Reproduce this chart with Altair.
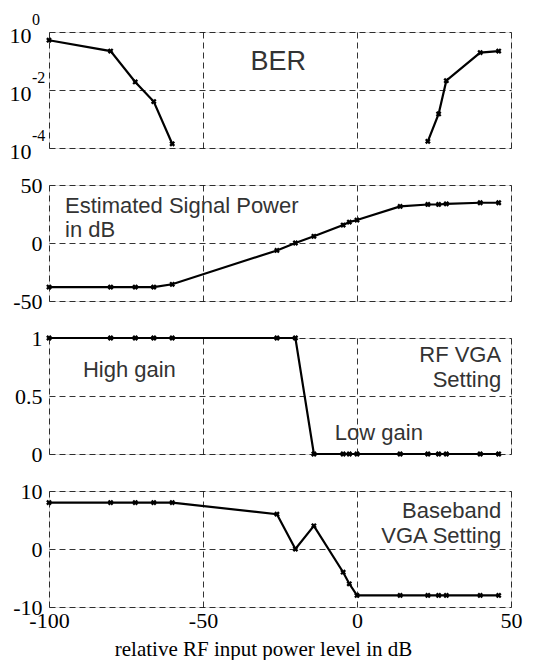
import altair as alt
import pandas as pd

x_vals = [-100, -80, -72, -66, -60, -26, -20, -14, -4.5, -2.5, 0, 14, 23, 26.5, 29, 40, 46]

ber_left_x = [-100, -80, -72, -66, -60]
ber_left_y = [0.52, 0.22, 0.019, 0.004, 1.4e-4]
ber_right_x = [23, 26.5, 29, 40, 46]
ber_right_y = [1.7e-4, 1.5e-3, 0.021, 0.195, 0.22]

power_db = [-38, -38, -38, -38, -35.6, -6.4, 0, 5.8, 15.5, 18, 19.8, 31.5, 33.2, 33.2, 33.8, 34.7, 34.7]
rf_vga = [1, 1, 1, 1, 1, 1, 1, 0, 0, 0, 0, 0, 0, 0, 0, 0, 0]
bb_vga = [8, 8, 8, 8, 8, 6, 0, 4, -4, -6, -8, -8, -8, -8, -8, -8, -8]

x_ticks = [-100, -50, 0, 50]
ber_ticks = [1, 1e-2, 1e-4]
ber_exp = ["0", "-2", "-4"]

W, H = 462, 116
SERIF = "Liberation Serif"
SANS = "Liberation Sans"
TXT = "#333333"
LBL = "toString(datum.value)"

xscale = alt.Scale(domain=[-100, 50], nice=False, zero=False)


def xenc(bottom=False):
    if bottom:
        ax = alt.Axis(values=x_ticks, title="relative RF input power level in dB",
                      labelFont=SERIF, labelFontSize=22, labelColor="black",
                      labelPadding=3, labelExpr=LBL, titleFont=SERIF, titleFontSize=21,
                      titleFontWeight="normal", titleColor="black", titlePadding=7,
                      titleX=214, titleAlign="center",
                      grid=True, gridDash=[6, 4], gridColor="black", gridWidth=0.8,
                      gridOpacity=1, domain=False, ticks=False, labelFlush=False)
    else:
        ax = alt.Axis(values=x_ticks, title=None, labels=False, grid=True,
                      gridDash=[6, 4], gridColor="black", gridWidth=0.8,
                      gridOpacity=1, domain=False, ticks=False)
    return alt.X("x:Q", scale=xscale, axis=ax)


def yaxis(values, labelExpr=LBL, pad=7, offset=0):
    kw = dict(values=values, title=None, labelFont=SERIF, labelFontSize=22,
              labelColor="black", labelPadding=pad, grid=True, gridDash=[6, 4],
              gridColor="black", gridWidth=0.8, gridOpacity=1, domain=False,
              ticks=False, labelFlush=False, labelBaseline="middle",
              labelExpr=labelExpr)
    if offset:
        kw["labelOffset"] = offset
    return alt.Axis(**kw)


def series(df, yfield, yscale, yax, bottom=False, detail=None):
    enc = dict(x=xenc(bottom), y=alt.Y(f"{yfield}:Q", scale=yscale, axis=yax))
    if detail:
        enc["detail"] = alt.Detail(f"{detail}:N")
    line = alt.Chart(df).mark_line(color="black", strokeWidth=2.2).encode(**enc)
    pts = alt.Chart(df).mark_point(shape="cross", angle=45, filled=True, size=34,
                                   color="black", opacity=1).encode(**enc)
    return [line, pts]


def notes(rows, yfield_scale, align, size=22):
    df = pd.DataFrame(rows, columns=["x", "y", "t"])
    return alt.Chart(df).mark_text(align=align, baseline="alphabetic", font=SANS,
                                   fontSize=size, color=TXT).encode(
        x=alt.X("x:Q", scale=xscale),
        y=alt.Y("y:Q", scale=yfield_scale),
        text="t:N")


# Panel 1: BER
ber_df = pd.DataFrame({
    "x": ber_left_x + ber_right_x,
    "y": ber_left_y + ber_right_y,
    "seg": ["a"] * len(ber_left_x) + ["b"] * len(ber_right_x),
})
ys1 = alt.Scale(type="log", domain=[1e-4, 1], nice=False)
p1_layers = series(ber_df, "y", ys1, yaxis(ber_ticks, "'10'", pad=18, offset=3), detail="seg")
exp_df = pd.DataFrame({"y": ber_ticks, "t": ber_exp})
exps = alt.Chart(exp_df).mark_text(align="left", baseline="alphabetic", font=SERIF,
                                   fontSize=16, color="black", dx=-17, dy=-7).encode(
    x=alt.datum(-100, scale=xscale), y=alt.Y("y:Q", scale=ys1), text="t:N")
p1 = alt.layer(*p1_layers, exps,
               notes([(-25.6, 0.049, "BER")], ys1, "center", size=27)
               ).properties(width=W, height=H)

# Panel 2: Estimated signal power
df2 = pd.DataFrame({"x": x_vals, "y": power_db})
ys2 = alt.Scale(domain=[-50, 50], nice=False)
p2 = alt.layer(*series(df2, "y", ys2, yaxis([-50, 0, 50])),
               notes([(-94.8, 25.8, "Estimated Signal Power"), (-94.8, 5.4, "in dB")], ys2, "left")
               ).properties(width=W, height=H)

# Panel 3: RF VGA
df3 = pd.DataFrame({"x": x_vals, "y": rf_vga})
ys3 = alt.Scale(domain=[0, 1], nice=False)
p3 = alt.layer(*series(df3, "y", ys3, yaxis([0, 0.5, 1])),
               notes([(-89, 0.665, "High gain"), (-7.2, 0.12, "Low gain")], ys3, "left"),
               notes([(46.8, 0.794, "RF VGA"), (46.8, 0.579, "Setting")], ys3, "right")
               ).properties(width=W, height=H)

# Panel 4: Baseband VGA
df4 = pd.DataFrame({"x": x_vals, "y": bb_vga})
ys4 = alt.Scale(domain=[-10, 10], nice=False)
p4 = alt.layer(*series(df4, "y", ys4, yaxis([-10, 0, 10]), bottom=True),
               notes([(46.8, 5.3, "Baseband"), (46.8, 1.0, "VGA Setting")], ys4, "right")
               ).properties(width=W, height=H)

chart = alt.vconcat(p1, p2, p3, p4, spacing=37, bounds="flush").properties(
    padding={"left": 0, "top": 3, "right": 5, "bottom": 0}
).configure_view(stroke="black", strokeWidth=1.2).configure(background="white")

chart.save("out.html", embed_options={"renderer": "svg", "actions": False})
